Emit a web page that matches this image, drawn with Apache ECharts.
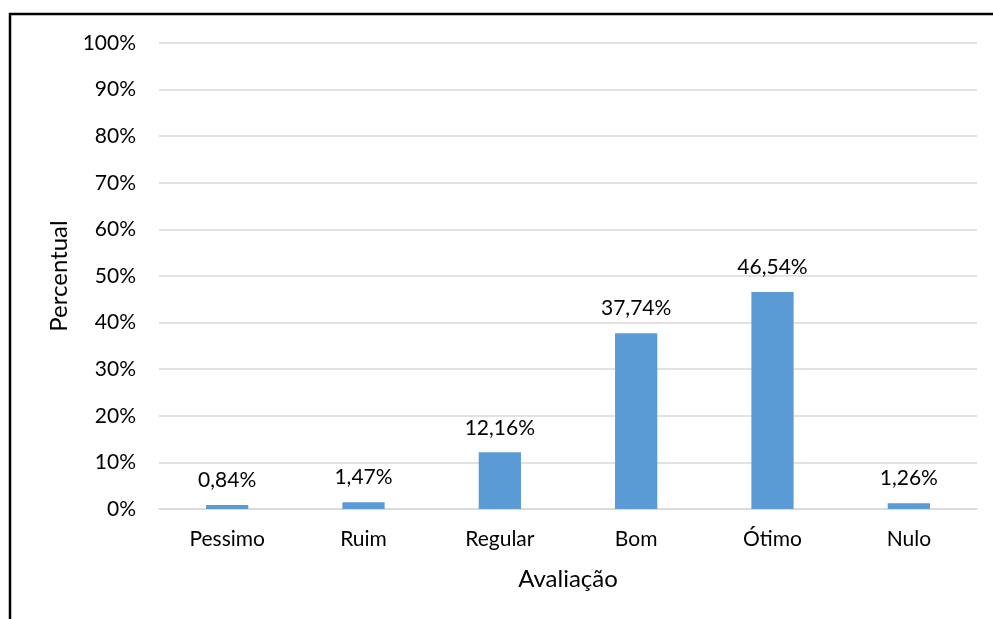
<!DOCTYPE html>
<html>
<head>
<meta charset="utf-8">
<script src="https://cdn.jsdelivr.net/npm/echarts@6/dist/echarts.min.js"></script>
<style>
  html, body { margin: 0; padding: 0; background: #fff; }
  #chart { width: 993px; height: 619px; }
</style>
</head>
<body>
<div id="chart"></div>
<script>
// Avaliação por categoria (percentual de respostas)
const categories = ['Pessimo', 'Ruim', 'Regular', 'Bom', 'Ótimo', 'Nulo'];
const percentValues = [0.84, 1.47, 12.16, 37.74, 46.54, 1.26];
const yTicks = { min: 0, max: 100, interval: 10 };

const FONT = 'Lato, "Open Sans", sans-serif';
const fmt = v => v.toFixed(2).replace('.', ',') + '%';

const chart = echarts.init(document.getElementById('chart'), null, { renderer: 'canvas' });
chart.setOption({
  backgroundColor: '#fff',
  animation: false,
  textStyle: { fontFamily: FONT },
  graphic: [{
    type: 'rect',
    shape: { x: 10, y: 14, width: 1100, height: 800 },
    style: { fill: 'none', stroke: '#000', lineWidth: 2.5 },
    silent: true
  }],
  grid: { left: 159, right: 16, top: 43, bottom: 110 },
  xAxis: {
    type: 'category',
    data: categories,
    name: 'Avaliação',
    nameLocation: 'middle',
    nameGap: 58,
    nameTextStyle: { fontSize: 24, color: '#000', fontFamily: FONT },
    axisLine: { lineStyle: { color: '#D9D9D9', width: 1.5 } },
    axisTick: { show: false },
    axisLabel: { fontSize: 21, color: '#000', margin: 20, fontFamily: FONT }
  },
  yAxis: {
    type: 'value',
    min: yTicks.min,
    max: yTicks.max,
    interval: yTicks.interval,
    name: 'Percentual',
    nameLocation: 'middle',
    nameGap: 86,
    nameTextStyle: { fontSize: 24, color: '#000', fontFamily: FONT },
    axisLine: { show: false },
    axisTick: { show: false },
    axisLabel: { fontSize: 21, color: '#000', margin: 23, formatter: '{value}%', fontFamily: FONT },
    splitLine: { lineStyle: { color: '#D9D9D9', width: 1.5 } }
  },
  series: [{
    type: 'bar',
    data: percentValues,
    barWidth: '31%',
    itemStyle: { color: '#5B9BD5' },
    label: {
      show: true,
      position: 'top',
      distance: 14,
      fontSize: 21,
      color: '#000',
      fontFamily: FONT,
      formatter: p => fmt(p.value)
    }
  }]
});
</script>
</body>
</html>
